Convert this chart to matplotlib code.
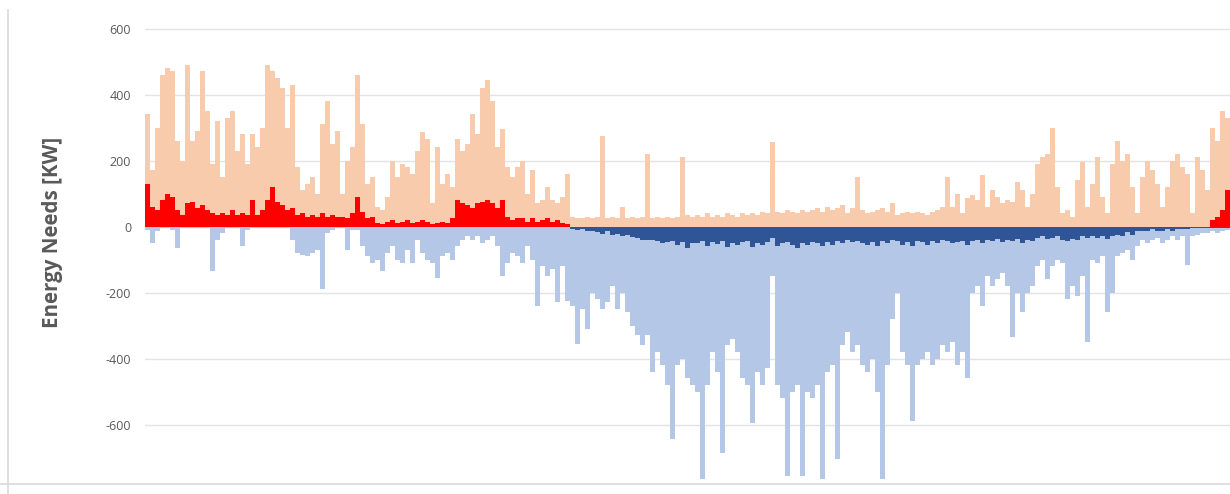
import matplotlib
matplotlib.use("Agg")
import matplotlib.pyplot as plt
import numpy as np
from matplotlib.lines import Line2D

# Values, one value per ~5 px column (time bins across the year), kW
heating_total = [
    340, 170, 300, 460, 480, 470, 260, 200, 490, 260,
    290, 470, 350, 190, 320, 150, 330, 350, 230, 280,
    190, 280, 240, 300, 490, 470, 450, 420, 300, 430,
    180, 110, 130, 150, 100, 310, 380, 250, 290, 100,
    200, 240, 460, 310, 130, 150, 60, 50, 90, 200,
    150, 190, 180, 160, 230, 285, 265, 70, 240, 130,
    160, 120, 265, 230, 250, 340, 280, 420, 445, 380,
    240, 295, 180, 150, 180, 200, 100, 170, 70, 80,
    120, 80, 70, 90, 160, 30, 25, 25, 30, 25,
    30, 275, 25, 30, 25, 60, 25, 30, 25, 30,
    220, 25, 30, 25, 30, 25, 30, 210, 35, 30,
    35, 30, 40, 30, 35, 30, 40, 35, 30, 40,
    35, 40, 35, 45, 40, 255, 45, 40, 50, 45,
    40, 50, 45, 50, 55, 45, 60, 50, 55, 65,
    40, 55, 150, 50, 40, 45, 50, 55, 45, 70,
    35, 40, 45, 40, 45, 40, 35, 45, 50, 60,
    150, 60, 100, 40, 85, 95, 80, 155, 60, 110,
    90, 70, 80, 75, 135, 110, 60, 100, 190, 210,
    220, 300, 120, 40, 50, 30, 140, 195, 60, 130,
    210, 90, 40, 190, 260, 200, 220, 120, 40, 150,
    200, 170, 130, 60, 120, 200, 220, 180, 160, 40,
    210, 170, 110, 300, 260, 350, 330,
]

heating_red = [
    130, 60, 50, 80, 100, 90, 50, 35, 70, 75,
    55, 65, 50, 40, 35, 40, 35, 50, 35, 40,
    35, 80, 35, 50, 80, 120, 75, 65, 50, 55,
    35, 40, 30, 35, 30, 40, 30, 35, 30, 30,
    25, 40, 90, 45, 25, 30, 12, 8, 15, 20,
    12, 15, 20, 12, 15, 20, 15, 8, 12, 15,
    12, 25, 80, 70, 65, 55, 70, 75, 80, 70,
    55, 80, 30, 20, 25, 25, 15, 25, 15, 20,
    25, 15, 20, 12, 8, 0, 0, 0, 0, 0,
    0, 0, 0, 0, 0, 0, 0, 0, 0, 0,
    0, 0, 0, 0, 0, 0, 0, 0, 0, 0,
    0, 0, 0, 0, 0, 0, 0, 0, 0, 0,
    0, 0, 0, 0, 0, 0, 0, 0, 0, 0,
    0, 0, 0, 0, 0, 0, 0, 0, 0, 0,
    0, 0, 0, 0, 0, 0, 0, 0, 0, 0,
    0, 0, 0, 0, 0, 0, 0, 0, 0, 0,
    0, 0, 0, 0, 0, 0, 0, 0, 0, 0,
    0, 0, 0, 0, 0, 0, 0, 0, 0, 0,
    0, 0, 0, 0, 0, 0, 0, 0, 0, 0,
    0, 0, 0, 0, 0, 0, 0, 0, 0, 0,
    0, 0, 0, 0, 0, 0, 0, 0, 0, 0,
    0, 0, 0, 20, 30, 50, 110,
]

cooling_total = [
    -10, -50, -15, -5, -5, -10, -65, -5, -5, -5,
    -5, -5, -5, -135, -40, -20, -5, -5, -5, -60,
    -10, -5, -5, -5, -5, -5, -5, -5, -5, -40,
    -80, -85, -90, -80, -70, -190, -20, -10, -5, -5,
    -70, -10, -10, -60, -90, -110, -100, -135, -80, -60,
    -100, -110, -70, -110, -40, -80, -100, -110, -155, -90,
    -80, -100, -60, -40, -30, -40, -30, -50, -40, -30,
    -60, -150, -110, -80, -90, -110, -60, -100, -240, -120,
    -150, -130, -230, -120, -225, -240, -355, -250, -310, -200,
    -220, -250, -230, -180, -250, -200, -260, -300, -330, -360,
    -330, -440, -380, -420, -480, -645, -420, -400, -460, -480,
    -500, -765, -480, -380, -440, -685, -360, -340, -380, -460,
    -480, -595, -440, -480, -430, -150, -480, -520, -755, -500,
    -480, -755, -500, -520, -480, -765, -440, -420, -705, -360,
    -320, -380, -360, -420, -440, -400, -500, -765, -420, -280,
    -200, -380, -420, -590, -420, -400, -380, -420, -400, -360,
    -380, -350, -420, -380, -460, -200, -180, -240, -150, -180,
    -160, -140, -180, -335, -200, -260, -200, -180, -120, -100,
    -160, -120, -100, -110, -220, -180, -210, -150, -350, -100,
    -110, -90, -260, -200, -90, -80, -70, -100, -60, -40,
    -50, -40, -35, -50, -40, -30, -40, -30, -115, -30,
    -25, -20, -20, -15, -20, -15, -10,
]

cooling_dark = [
    0, 0, 0, 0, 0, 0, 0, 0, 0, 0,
    0, 0, 0, 0, 0, 0, 0, 0, 0, 0,
    0, 0, 0, 0, 0, 0, 0, 0, 0, 0,
    0, 0, 0, 0, 0, 0, 0, 0, 0, 0,
    0, 0, 0, 0, 0, 0, 0, 0, 0, 0,
    0, 0, 0, 0, 0, 0, 0, 0, 0, 0,
    0, 0, 0, 0, 0, 0, 0, 0, 0, 0,
    0, 0, 0, 0, 0, 0, 0, 0, 0, 0,
    0, 0, 0, 0, 0, -8, -10, -8, -15, -12,
    -18, -22, -15, -25, -22, -28, -25, -32, -35, -40,
    -42, -40, -45, -50, -48, -45, -55, -48, -65, -50,
    -50, -45, -58, -48, -52, -45, -62, -50, -55, -48,
    -45, -62, -50, -55, -48, -35, -58, -50, -48, -55,
    -65, -50, -55, -48, -50, -58, -48, -55, -45, -50,
    -40, -48, -45, -50, -55, -48, -58, -45, -50, -40,
    -45, -55, -48, -58, -45, -48, -55, -45, -50, -40,
    -45, -50, -48, -45, -55, -45, -40, -50, -40, -45,
    -38, -48, -40, -45, -38, -50, -40, -45, -35, -30,
    -38, -35, -30, -40, -45, -38, -40, -30, -35, -28,
    -35, -30, -38, -28, -25, -28, -18, -25, -12, -15,
    -12, -8, -12, -15, -8, -12, -8, -8, -8, -5,
    -5, -5, -5, -5, -5, -5, -5,
]

y_ticks = [600, 400, 200, 0, -200, -400, -600]
y_label = "Energy Needs [KW]"

C_SALMON = "#F8CBAD"
C_RED = "#FF0000"
C_LBLUE = "#B4C7E7"
C_DBLUE = "#2F5597"
C_TEXT = "#595959"
C_GRID = "#E3E3E3"

W, H = 1230, 494
fig = plt.figure(figsize=(W / 100, H / 100), dpi=100)
fig.patch.set_facecolor("white")

ax = fig.add_axes([145 / W, (H - 484) / H, 1085 / W, 472 / H])
x = np.arange(len(heating_total))

ax.bar(x, heating_total, width=1.0, color=C_SALMON, linewidth=0, zorder=2)
ax.bar(x, heating_red, width=1.0, color=C_RED, linewidth=0, zorder=3)
ax.bar(x, cooling_total, width=1.0, color=C_LBLUE, linewidth=0, zorder=2)
ax.bar(x, cooling_dark, width=1.0, color=C_DBLUE, linewidth=0, zorder=3)

ax.set_xlim(-0.5, len(heating_total) - 0.5)
ax.set_ylim(-780, 650)
ax.set_yticks(y_ticks)
ax.set_yticklabels([str(v) for v in y_ticks], fontsize=9, color=C_TEXT,
                   family=["Open Sans", "DejaVu Sans"])
ax.tick_params(axis="y", length=0, pad=10)
ax.set_xticks([])
for s in ax.spines.values():
    s.set_visible(False)
ax.grid(axis="y", color=C_GRID, linewidth=1.0, zorder=0)
ax.set_axisbelow(True)

fig.text(53 / W, 1 - 232 / H, y_label, rotation=90, ha="center", va="center",
         fontsize=14.8, fontweight="bold", color=C_TEXT,
         family=["Open Sans", "DejaVu Sans"])

# chart frame lines
fig.add_artist(Line2D([8 / W, 8 / W], [0, 1 - 10 / H], transform=fig.transFigure,
                      color="#D9D9D9", linewidth=1.2))
fig.add_artist(Line2D([0, 1], [1 - 484 / H, 1 - 484 / H], transform=fig.transFigure,
                      color="#D9D9D9", linewidth=1.2))

fig.savefig("out.png", dpi=100, facecolor="white")
